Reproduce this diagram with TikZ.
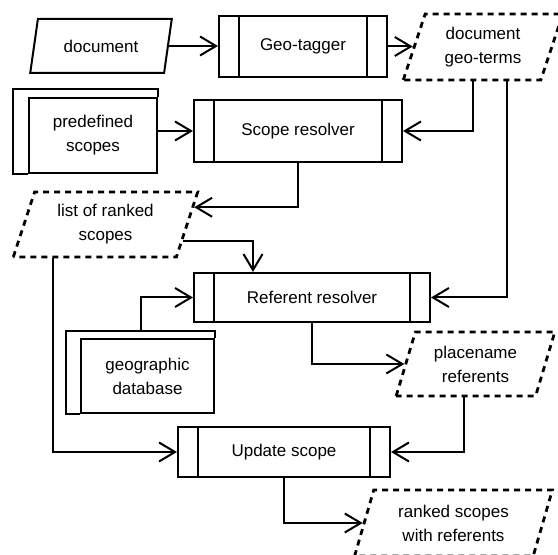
\documentclass[tikz,border=0pt]{standalone}
\usepackage{fontspec}
\setmainfont{Liberation Sans}
\usetikzlibrary{shapes.geometric,arrows.meta}

\begin{document}
\begin{tikzpicture}[x=0.5pt,y=-0.5pt,
    font=\fontsize{8.5}{12}\selectfont,
    every node/.style={align=center,inner sep=0pt},
    proc/.style={draw,line width=1pt,rectangle,
      path picture={
        \draw[line width=1pt] ([xshift=10pt]path picture bounding box.north west) -- ([xshift=10pt]path picture bounding box.south west);
        \draw[line width=1pt] ([xshift=-10pt]path picture bounding box.north east) -- ([xshift=-10pt]path picture bounding box.south east);}},
    para/.style={draw,line width=1pt,trapezium,trapezium left angle=70,trapezium right angle=110,trapezium stretches=true},
    data/.style={para,line width=1.4pt,dash pattern=on 3pt off 2.5pt},
    store/.style={draw,line width=1pt,rectangle},
    arr/.style={line width=1pt,-{Straight Barb[length=8pt,width=9.5pt]}}]
        \useasboundingbox (0,0) rectangle (558,555) ;
        %\draw[very thin,gray,step=50] (0,0) grid (558,555) ;
        \node[para,minimum width=71pt,minimum height=27pt] (doc) at (101,46) {document} ;
        \node[proc,minimum width=84pt,minimum height=30.5pt] (tagger) at (303,46.5) {Geo-tagger} ;
        \node[data,minimum width=80pt,minimum height=33pt] (terms) at (483,47) {document\\geo-terms} ;
        \node[store,minimum width=64pt,minimum height=37.5pt] (predef) at (93,135.5) {predefined\\scopes} ;
        \node[proc,minimum width=104pt,minimum height=31pt] (scoper) at (298,131) {Scope resolver} ;
        \node[data,minimum width=92.5pt,minimum height=32.5pt] (list) at (105.5,224.5) {list of ranked\\scopes} ;
        \node[proc,minimum width=118pt,minimum height=24.5pt] (refres) at (312,297.5) {Referent resolver} ;
        \node[store,minimum width=66.5pt,minimum height=37pt] (geodb) at (147.5,376) {geographic\\database} ;
        \node[data,minimum width=79.5pt,minimum height=32pt] (placen) at (475.5,364) {placename\\referents} ;
        \node[proc,minimum width=106pt,minimum height=25pt] (update) at (284,452) {Update scope} ;
        \node[data,minimum width=99.5pt,minimum height=33pt] (ranked) at (453.5,523) {ranked scopes\\with referents} ;
        % storage bands
        \draw[line width=1pt] (predef.south west) -- ++(-15,0) |- ([yshift=4pt]predef.north east) -- (predef.north east) ;
        \draw[line width=1pt] (geodb.south west) -- ++(-14,0) |- ([yshift=3.5pt]geodb.north east) -- (geodb.north east) ;
        % flows
        \draw[arr] (doc.east) -- (tagger.west |- doc.east) ;
        \draw[arr] (tagger.east) -- (terms.west |- tagger.east) ;
        \draw[arr] (predef.east |- scoper.west) -- (scoper.west) ;
        \draw[arr] ([xshift=-5pt]terms.south) |- (scoper.east) ;
        \draw[arr] ([xshift=12pt]terms.south) |- (refres.east) ;
        \draw[arr] (scoper.south) |- (list.11) ;
        \draw[arr] (list.-12) -| ([xshift=-29.5pt]refres.north) ;
        \draw[arr] ([xshift=-3.25pt,yshift=3.5pt]geodb.north) |- (refres.west) ;
        \draw[arr] (refres.south) |- (placen.west) ;
        \draw[arr] ([xshift=-5.75pt]placen.south) |- (update.east) ;
        \draw[arr] ([xshift=-26.25pt]list.south) |- (update.west) ;
        \draw[arr] (update.south) |- (ranked.west) ;
      \end{tikzpicture}
\end{document}
